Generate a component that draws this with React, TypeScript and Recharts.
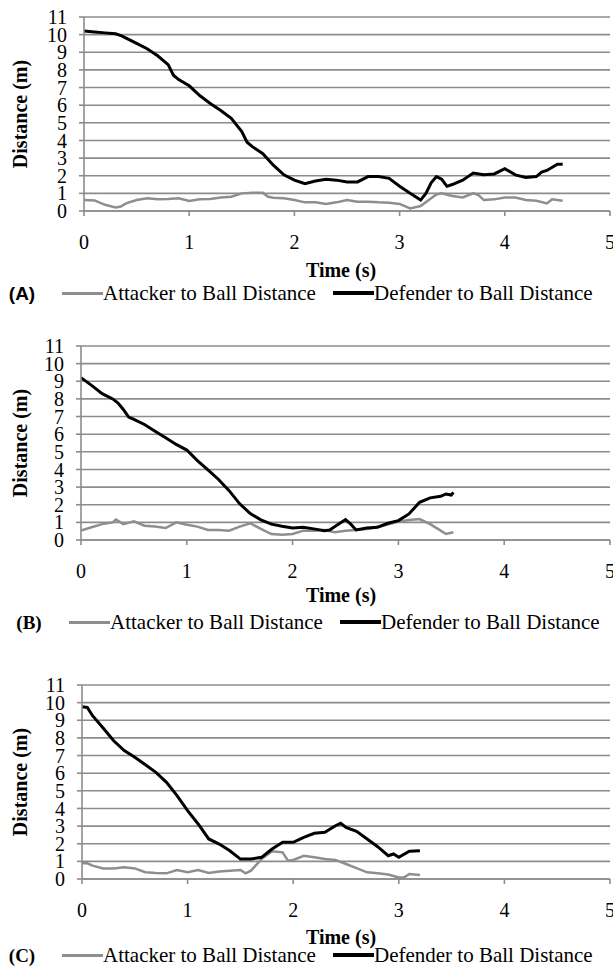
import { LineChart, Line, XAxis, YAxis, CartesianGrid } from 'recharts';

// [time (s), distance (m)]
const attackerA: [number, number][] = [
  [0, 0.62], [0.1, 0.6], [0.2, 0.35], [0.3, 0.2], [0.35, 0.25], [0.4, 0.43], [0.5, 0.62],
  [0.6, 0.72], [0.7, 0.66], [0.8, 0.68], [0.9, 0.72], [1.0, 0.57], [1.1, 0.66], [1.2, 0.68],
  [1.3, 0.77], [1.4, 0.81], [1.5, 1.0], [1.6, 1.04], [1.7, 1.04], [1.75, 0.81], [1.8, 0.75],
  [1.9, 0.72], [2.0, 0.62], [2.1, 0.49], [2.2, 0.49], [2.3, 0.4], [2.4, 0.49], [2.5, 0.62],
  [2.6, 0.53], [2.7, 0.53], [2.8, 0.49], [2.9, 0.47], [3.0, 0.4], [3.1, 0.15], [3.2, 0.28],
  [3.3, 0.72], [3.35, 0.94], [3.4, 1.0], [3.5, 0.85], [3.6, 0.77], [3.7, 1.0], [3.75, 0.9],
  [3.8, 0.62], [3.9, 0.66], [4.0, 0.77], [4.1, 0.77], [4.2, 0.62], [4.3, 0.58], [4.4, 0.43],
  [4.45, 0.66], [4.55, 0.58],
];

const defenderA: [number, number][] = [
  [0, 10.2], [0.1, 10.15], [0.2, 10.1], [0.3, 10.05], [0.35, 9.95], [0.4, 9.8], [0.5, 9.5],
  [0.6, 9.2], [0.7, 8.8], [0.8, 8.3], [0.85, 7.7], [0.9, 7.45], [1.0, 7.1], [1.1, 6.55],
  [1.2, 6.1], [1.3, 5.7], [1.4, 5.25], [1.5, 4.5], [1.55, 3.9], [1.6, 3.65], [1.7, 3.25],
  [1.8, 2.6], [1.9, 2.05], [2.0, 1.75], [2.1, 1.55], [2.2, 1.7], [2.3, 1.8], [2.4, 1.75],
  [2.5, 1.65], [2.6, 1.65], [2.7, 1.95], [2.8, 1.95], [2.9, 1.85], [3.0, 1.4], [3.1, 1.0],
  [3.2, 0.62], [3.25, 1.0], [3.3, 1.6], [3.35, 1.95], [3.4, 1.8], [3.45, 1.4], [3.5, 1.5],
  [3.6, 1.75], [3.7, 2.15], [3.8, 2.05], [3.9, 2.1], [4.0, 2.4], [4.1, 2.05], [4.2, 1.9],
  [4.3, 1.95], [4.35, 2.2], [4.4, 2.3], [4.5, 2.65], [4.55, 2.65],
];

const attackerB: [number, number][] = [
  [0, 0.53], [0.1, 0.72], [0.2, 0.9], [0.3, 1.0], [0.33, 1.16], [0.4, 0.9], [0.5, 1.06],
  [0.6, 0.81], [0.7, 0.76], [0.8, 0.68], [0.9, 1.0], [1.0, 0.87], [1.1, 0.76], [1.2, 0.57],
  [1.3, 0.57], [1.4, 0.53], [1.5, 0.76], [1.6, 0.95], [1.7, 0.63], [1.8, 0.34], [1.9, 0.3],
  [2.0, 0.34], [2.1, 0.53], [2.2, 0.53], [2.3, 0.57], [2.4, 0.44], [2.5, 0.53], [2.6, 0.57],
  [2.7, 0.63], [2.8, 0.72], [2.9, 0.87], [3.0, 1.04], [3.1, 1.14], [3.2, 1.19], [3.3, 0.9],
  [3.4, 0.53], [3.45, 0.34], [3.52, 0.44],
];

const defenderB: [number, number][] = [
  [0, 9.2], [0.1, 8.77], [0.2, 8.3], [0.3, 8.0], [0.35, 7.77], [0.4, 7.4], [0.45, 6.97],
  [0.5, 6.84], [0.6, 6.55], [0.7, 6.17], [0.8, 5.8], [0.9, 5.42], [1.0, 5.1], [1.1, 4.5],
  [1.2, 3.98], [1.3, 3.43], [1.4, 2.8], [1.5, 2.05], [1.6, 1.5], [1.7, 1.14], [1.8, 0.9],
  [1.9, 0.78], [2.0, 0.68], [2.1, 0.72], [2.2, 0.63], [2.3, 0.53], [2.35, 0.57], [2.4, 0.76],
  [2.5, 1.16], [2.55, 0.9], [2.6, 0.57], [2.7, 0.68], [2.8, 0.72], [2.9, 0.95], [3.0, 1.1],
  [3.1, 1.48], [3.2, 2.14], [3.3, 2.39], [3.4, 2.48], [3.45, 2.61], [3.5, 2.55], [3.52, 2.7],
];

const attackerC: [number, number][] = [
  [0, 0.89], [0.05, 0.89], [0.1, 0.76], [0.2, 0.6], [0.3, 0.6], [0.4, 0.66], [0.5, 0.6],
  [0.6, 0.38], [0.7, 0.34], [0.8, 0.32], [0.9, 0.51], [1.0, 0.38], [1.1, 0.51], [1.2, 0.34],
  [1.3, 0.42], [1.4, 0.47], [1.5, 0.51], [1.55, 0.32], [1.6, 0.47], [1.7, 1.13], [1.8, 1.57],
  [1.9, 1.51], [1.95, 1.04], [2.0, 1.08], [2.1, 1.32], [2.2, 1.23], [2.3, 1.13], [2.4, 1.08],
  [2.5, 0.85], [2.6, 0.62], [2.7, 0.38], [2.8, 0.32], [2.9, 0.25], [3.0, 0.09], [3.05, 0.09],
  [3.1, 0.28], [3.2, 0.23],
];

const defenderC: [number, number][] = [
  [0, 9.77], [0.05, 9.73], [0.1, 9.26], [0.2, 8.56], [0.3, 7.84], [0.4, 7.28], [0.5, 6.9],
  [0.6, 6.48], [0.7, 6.05], [0.8, 5.48], [0.9, 4.73], [1.0, 3.88], [1.1, 3.12], [1.2, 2.27],
  [1.3, 1.98], [1.4, 1.6], [1.5, 1.13], [1.6, 1.13], [1.7, 1.23], [1.8, 1.7], [1.9, 2.08],
  [2.0, 2.08], [2.1, 2.36], [2.2, 2.59], [2.3, 2.65], [2.4, 3.02], [2.45, 3.16], [2.5, 2.93],
  [2.6, 2.7], [2.7, 2.27], [2.8, 1.83], [2.9, 1.32], [2.95, 1.42], [3.0, 1.23], [3.1, 1.57],
  [3.2, 1.6],
];

const xTicks = [0, 1, 2, 3, 4, 5];
const yTicks = [0, 1, 2, 3, 4, 5, 6, 7, 8, 9, 10, 11];
const attackerName = 'Attacker to Ball Distance';
const defenderName = 'Defender to Ball Distance';

const SERIF = '"Liberation Serif", "Times New Roman", serif';
const GRID = '#8c8c8c';
const GRAY_LINE = '#8e8e8e';

const toPoints = (pairs: [number, number][]) => pairs.map(([t, d]) => ({ t, d }));

interface PanelProps {
  letter: string;
  letterFont: string;
  attacker: [number, number][];
  defender: [number, number][];
  plotTop: number;
  plotLeft: number;
  timeY: number;
  legendY: number;
  legendX: number;
}

const PLOT_H = 194;

function Panel({
  letter,
  letterFont,
  attacker,
  defender,
  plotTop,
  plotLeft,
  timeY,
  legendY,
  legendX,
}: PanelProps) {
  const tick = { fill: '#000', fontFamily: SERIF, fontSize: 20 };
  const center = (x: number, y: number) => ({
    position: 'absolute' as const,
    left: x,
    top: y,
    transform: 'translate(-50%, -50%)',
    whiteSpace: 'nowrap' as const,
    lineHeight: 1,
  });

  return (
    <>
      <div style={{ position: 'absolute', left: 0, top: plotTop - 10 }}>
        <LineChart
          width={613}
          height={10 + PLOT_H + 50}
          margin={{ top: 10, right: 3, bottom: 0, left: 0 }}
        >
          <CartesianGrid
            vertical={false}
            stroke={GRID}
            strokeWidth={1.6}
          />
          <XAxis
            type="number"
            dataKey="t"
            domain={[0, 5]}
            ticks={xTicks}
            height={50}
            allowDataOverflow
            axisLine={{ stroke: GRID, strokeWidth: 1.6 }}
            tickLine={{ stroke: GRID, strokeWidth: 1.6 }}
            tickSize={5}
            tickMargin={19}
            tick={tick}
            interval={0}
          />
          <YAxis
            type="number"
            domain={[0, 11]}
            ticks={yTicks}
            width={plotLeft}
            axisLine={{ stroke: GRID, strokeWidth: 1.6 }}
            tickLine={{ stroke: GRID, strokeWidth: 1.6 }}
            tickSize={5}
            tickMargin={12}
            tick={tick}
            interval={0}
          />
          <Line
            data={toPoints(attacker)}
            dataKey="d"
            name={attackerName}
            type="linear"
            stroke={GRAY_LINE}
            strokeWidth={2.5}
            dot={false}
            isAnimationActive={false}
          />
          <Line
            data={toPoints(defender)}
            dataKey="d"
            name={defenderName}
            type="linear"
            stroke="#000"
            strokeWidth={3}
            dot={false}
            isAnimationActive={false}
          />
        </LineChart>
      </div>

      {/* y axis title */}
      <div
        style={{
          ...center(20, plotTop + PLOT_H / 2),
          transform: 'translate(-50%, -50%) rotate(-90deg)',
          fontFamily: SERIF,
          fontWeight: 'bold',
          fontSize: 20,
        }}
      >
        Distance (m)
      </div>

      {/* x axis title */}
      <div style={{ ...center(341, timeY), fontFamily: SERIF, fontWeight: 'bold', fontSize: 20 }}>
        Time (s)
      </div>

      {/* panel letter + legend */}
      <div style={{ ...center(legendX - 40, legendY), fontFamily: letterFont, fontWeight: 'bold', fontSize: 19 }}>
        {letter}
      </div>
      <div
        style={{
          position: 'absolute',
          left: legendX,
          top: legendY - 1.5,
          width: 41,
          height: 3,
          background: GRAY_LINE,
        }}
      />
      <div
        style={{
          position: 'absolute',
          left: legendX + 41,
          top: legendY,
          transform: 'translateY(-50%)',
          fontFamily: SERIF,
          fontSize: 21,
          lineHeight: 1,
          whiteSpace: 'nowrap',
        }}
      >
        {attackerName}
      </div>
      <div
        style={{
          position: 'absolute',
          left: legendX + 271,
          top: legendY - 2,
          width: 41,
          height: 4,
          background: '#000',
        }}
      />
      <div
        style={{
          position: 'absolute',
          left: legendX + 312,
          top: legendY,
          transform: 'translateY(-50%)',
          fontFamily: SERIF,
          fontSize: 21,
          lineHeight: 1,
          whiteSpace: 'nowrap',
        }}
      >
        {defenderName}
      </div>
    </>
  );
}

export default function App() {
  return (
    <div
      style={{
        position: 'absolute',
        left: 0,
        top: 0,
        width: 613,
        height: 971,
        background: '#fff',
        overflow: 'hidden',
      }}
    >
      <Panel
        letter="(A)"
        letterFont='"Liberation Sans", Arial, sans-serif'
        attacker={attackerA}
        defender={defenderA}
        plotTop={17}
        plotLeft={84}
        timeY={270}
        legendY={293}
        legendX={62}
      />
      <Panel
        letter="(B)"
        letterFont={SERIF}
        attacker={attackerB}
        defender={defenderB}
        plotTop={346}
        plotLeft={81}
        timeY={595}
        legendY={622}
        legendX={69}
      />
      <Panel
        letter="(C)"
        letterFont={SERIF}
        attacker={attackerC}
        defender={defenderC}
        plotTop={684.5}
        plotLeft={82}
        timeY={937}
        legendY={955}
        legendX={62}
      />
    </div>
  );
}
